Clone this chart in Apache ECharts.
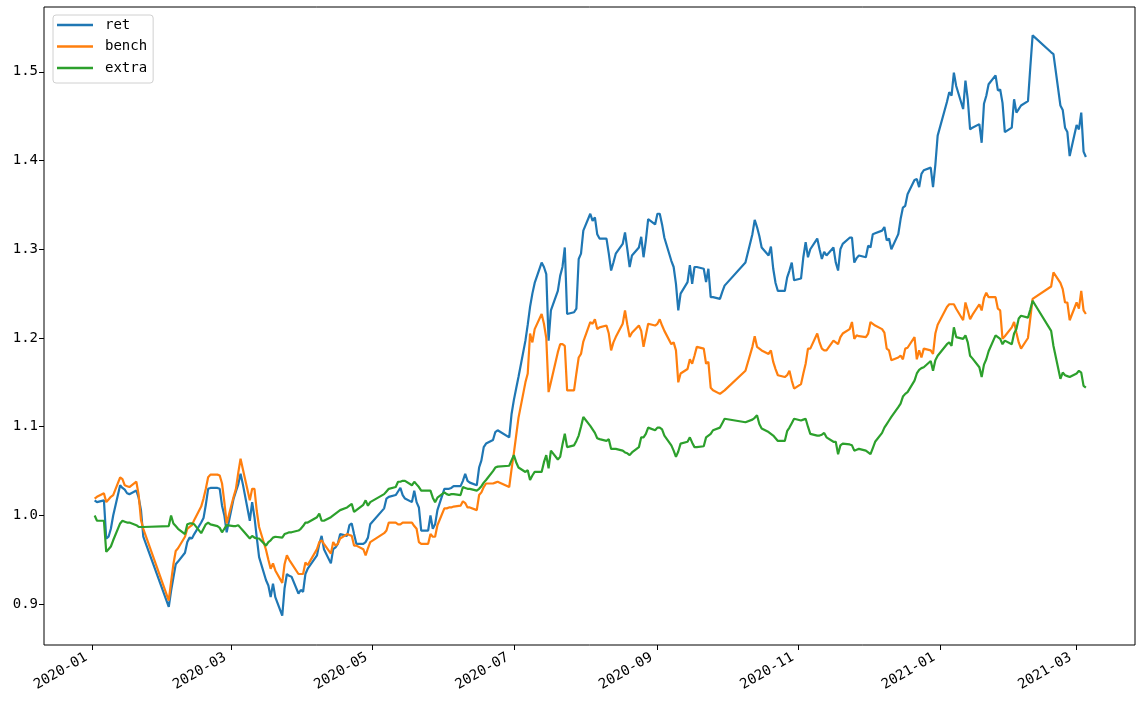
<!DOCTYPE html>
<html>
<head>
<meta charset="utf-8">
<script src="https://cdn.jsdelivr.net/npm/echarts@6/dist/echarts.min.js"></script>
<style>
html,body{margin:0;padding:0;background:#fff;}
#chart{width:1140px;height:708px;}
</style>
</head>
<body>
<div id="chart"></div>
<script>
// ---- data ----
const dates = [
'2020-01-02','2020-01-03','2020-01-06','2020-01-07','2020-01-08','2020-01-09','2020-01-10','2020-01-13','2020-01-14','2020-01-15','2020-01-16','2020-01-17','2020-01-20','2020-01-21','2020-01-22','2020-01-23',
'2020-02-03','2020-02-04','2020-02-05','2020-02-06','2020-02-07','2020-02-10','2020-02-11','2020-02-12','2020-02-13','2020-02-14','2020-02-17','2020-02-18','2020-02-19','2020-02-20','2020-02-21','2020-02-24','2020-02-25','2020-02-26','2020-02-27','2020-02-28',
'2020-03-02','2020-03-03','2020-03-04','2020-03-05','2020-03-06','2020-03-09','2020-03-10','2020-03-11','2020-03-12','2020-03-13','2020-03-16','2020-03-17','2020-03-18','2020-03-19','2020-03-20','2020-03-23','2020-03-24','2020-03-25','2020-03-26','2020-03-27','2020-03-30','2020-03-31',
'2020-04-01','2020-04-02','2020-04-03','2020-04-07','2020-04-08','2020-04-09','2020-04-10','2020-04-13','2020-04-14','2020-04-15','2020-04-16','2020-04-17','2020-04-20','2020-04-21','2020-04-22','2020-04-23','2020-04-24','2020-04-27','2020-04-28','2020-04-29','2020-04-30',
'2020-05-06','2020-05-07','2020-05-08','2020-05-11','2020-05-12','2020-05-13','2020-05-14','2020-05-15','2020-05-18','2020-05-19','2020-05-20','2020-05-21','2020-05-22','2020-05-25','2020-05-26','2020-05-27','2020-05-28','2020-05-29',
'2020-06-01','2020-06-02','2020-06-03','2020-06-04','2020-06-05','2020-06-08','2020-06-09','2020-06-10','2020-06-11','2020-06-12','2020-06-15','2020-06-16','2020-06-17','2020-06-18','2020-06-19','2020-06-22','2020-06-23','2020-06-24','2020-06-29','2020-06-30',
'2020-07-01','2020-07-02','2020-07-03','2020-07-06','2020-07-07','2020-07-08','2020-07-09','2020-07-10','2020-07-13','2020-07-14','2020-07-15','2020-07-16','2020-07-17','2020-07-20','2020-07-21','2020-07-22','2020-07-23','2020-07-24','2020-07-27','2020-07-28','2020-07-29','2020-07-30','2020-07-31',
'2020-08-03','2020-08-04','2020-08-05','2020-08-06','2020-08-07','2020-08-10','2020-08-11','2020-08-12','2020-08-13','2020-08-14','2020-08-17','2020-08-18','2020-08-19','2020-08-20','2020-08-21','2020-08-24','2020-08-25','2020-08-26','2020-08-27','2020-08-28','2020-08-31',
'2020-09-01','2020-09-02','2020-09-03','2020-09-04','2020-09-07','2020-09-08','2020-09-09','2020-09-10','2020-09-11','2020-09-14','2020-09-15','2020-09-16','2020-09-17','2020-09-18','2020-09-21','2020-09-22','2020-09-23','2020-09-24','2020-09-25','2020-09-28','2020-09-29','2020-09-30',
'2020-10-09','2020-10-12','2020-10-13','2020-10-14','2020-10-15','2020-10-16','2020-10-19','2020-10-20','2020-10-21','2020-10-22','2020-10-23','2020-10-26','2020-10-27','2020-10-28','2020-10-29','2020-10-30',
'2020-11-02','2020-11-03','2020-11-04','2020-11-05','2020-11-06','2020-11-09','2020-11-10','2020-11-11','2020-11-12','2020-11-13','2020-11-16','2020-11-17','2020-11-18','2020-11-19','2020-11-20','2020-11-23','2020-11-24','2020-11-25','2020-11-26','2020-11-27','2020-11-30',
'2020-12-01','2020-12-02','2020-12-03','2020-12-04','2020-12-07','2020-12-08','2020-12-09','2020-12-10','2020-12-11','2020-12-14','2020-12-15','2020-12-16','2020-12-17','2020-12-18','2020-12-21','2020-12-22','2020-12-23','2020-12-24','2020-12-25','2020-12-28','2020-12-29','2020-12-30','2020-12-31',
'2021-01-04','2021-01-05','2021-01-06','2021-01-07','2021-01-08','2021-01-11','2021-01-12','2021-01-13','2021-01-14','2021-01-15','2021-01-18','2021-01-19','2021-01-20','2021-01-21','2021-01-22','2021-01-25','2021-01-26','2021-01-27','2021-01-28','2021-01-29',
'2021-02-01','2021-02-02','2021-02-03','2021-02-04','2021-02-05','2021-02-08','2021-02-09','2021-02-10','2021-02-18','2021-02-19','2021-02-22','2021-02-23','2021-02-24','2021-02-25','2021-02-26',
'2021-03-01','2021-03-02','2021-03-03','2021-03-04','2021-03-05'
];

const ret = [
1.017,1.015,1.017,0.974,0.976,0.985,1.000,1.034,1.031,1.029,1.025,1.024,1.028,1.020,1.006,0.976,
0.897,0.915,0.930,0.945,0.948,0.958,0.970,0.975,0.974,0.979,0.992,0.997,1.012,1.030,1.031,1.031,1.030,1.011,1.000,0.981,
1.019,1.027,1.035,1.047,1.035,0.994,1.015,0.998,0.975,0.953,0.927,0.921,0.908,0.923,0.908,0.887,0.918,0.934,0.932,0.931,0.912,0.916,
0.914,0.934,0.940,0.955,0.968,0.977,0.962,0.946,0.962,0.964,0.968,0.979,0.977,0.989,0.991,0.979,0.968,0.968,0.970,0.975,0.990,
1.008,1.019,1.021,1.023,1.027,1.031,1.023,1.019,1.015,1.028,1.015,1.009,0.983,0.983,1.000,0.985,0.990,1.006,
1.030,1.030,1.030,1.031,1.033,1.033,1.039,1.047,1.039,1.037,1.034,1.054,1.062,1.077,1.081,1.085,1.094,1.096,1.088,1.114,
1.130,1.143,1.156,1.197,1.215,1.235,1.250,1.262,1.285,1.280,1.272,1.197,1.231,1.253,1.270,1.280,1.302,1.227,1.229,1.233,1.289,1.295,1.321,
1.340,1.332,1.336,1.317,1.312,1.312,1.295,1.276,1.285,1.295,1.306,1.319,1.300,1.280,1.293,1.302,1.314,1.291,1.310,1.334,1.328,
1.340,1.340,1.328,1.313,1.287,1.280,1.261,1.231,1.250,1.263,1.282,1.261,1.280,1.280,1.278,1.263,1.278,1.246,1.246,1.244,1.252,1.259,
1.285,1.317,1.333,1.325,1.315,1.302,1.293,1.303,1.278,1.262,1.253,1.253,1.268,1.276,1.285,1.265,
1.267,1.291,1.308,1.291,1.300,1.312,1.300,1.289,1.297,1.293,1.302,1.285,1.276,1.300,1.306,1.313,1.313,1.285,1.290,1.293,1.291,
1.304,1.302,1.317,1.318,1.321,1.325,1.310,1.312,1.300,1.317,1.334,1.347,1.349,1.362,1.378,1.379,1.370,1.385,1.389,1.392,1.370,1.395,1.428,
1.466,1.477,1.473,1.499,1.484,1.458,1.490,1.469,1.435,1.437,1.441,1.420,1.464,1.473,1.486,1.496,1.479,1.480,1.465,1.432,
1.437,1.469,1.454,1.458,1.462,1.467,1.505,1.541,1.522,1.520,1.462,1.457,1.437,1.432,1.405,
1.440,1.435,1.454,1.410,1.404
];

const bench = [
1.019,1.021,1.025,1.015,1.018,1.021,1.023,1.043,1.041,1.034,1.033,1.032,1.038,1.023,0.995,0.985,
0.904,0.925,0.945,0.960,0.963,0.976,0.985,0.987,0.989,0.995,1.010,1.019,1.030,1.043,1.046,1.046,1.045,1.036,1.015,0.991,
1.021,1.030,1.048,1.064,1.052,1.017,1.030,1.030,1.005,0.987,0.961,0.950,0.940,0.946,0.938,0.924,0.945,0.955,0.950,0.946,0.934,0.934,
0.934,0.947,0.944,0.962,0.970,0.972,0.968,0.957,0.970,0.966,0.968,0.974,0.979,0.978,0.977,0.966,0.966,0.962,0.955,0.963,0.970,
0.980,0.983,0.992,0.992,0.990,0.990,0.992,0.992,0.992,0.988,0.985,0.970,0.968,0.968,0.979,0.976,0.976,0.989,
1.008,1.008,1.009,1.009,1.010,1.011,1.016,1.014,1.009,1.009,1.006,1.023,1.026,1.032,1.036,1.036,1.037,1.038,1.032,1.052,
1.070,1.090,1.110,1.150,1.160,1.205,1.195,1.210,1.227,1.216,1.200,1.139,1.150,1.184,1.193,1.193,1.191,1.141,1.141,1.160,1.178,1.182,1.196,
1.218,1.216,1.221,1.210,1.212,1.214,1.205,1.186,1.195,1.201,1.216,1.231,1.215,1.201,1.206,1.214,1.208,1.190,1.203,1.216,1.214,
1.216,1.221,1.214,1.208,1.193,1.195,1.186,1.150,1.160,1.165,1.176,1.171,1.180,1.190,1.188,1.171,1.173,1.144,1.141,1.137,1.139,1.141,
1.163,1.190,1.202,1.190,1.188,1.186,1.182,1.186,1.173,1.165,1.158,1.156,1.158,1.163,1.152,1.143,
1.148,1.160,1.171,1.188,1.188,1.205,1.195,1.188,1.186,1.186,1.197,1.195,1.193,1.201,1.205,1.210,1.218,1.199,1.203,1.202,1.201,
1.205,1.218,1.216,1.214,1.210,1.206,1.188,1.186,1.175,1.178,1.180,1.176,1.188,1.189,1.201,1.176,1.186,1.178,1.188,1.186,1.182,1.205,1.215,
1.235,1.238,1.238,1.238,1.233,1.220,1.240,1.231,1.221,1.226,1.238,1.231,1.245,1.251,1.246,1.246,1.233,1.231,1.199,1.202,
1.212,1.218,1.206,1.195,1.188,1.200,1.222,1.244,1.258,1.274,1.262,1.255,1.240,1.240,1.220,
1.240,1.233,1.253,1.231,1.227
];

const extra = [
1.000,0.994,0.994,0.959,0.962,0.965,0.972,0.991,0.994,0.993,0.992,0.992,0.989,0.987,0.987,0.987,
0.988,1.000,0.991,0.988,0.985,0.979,0.990,0.991,0.991,0.990,0.980,0.985,0.990,0.992,0.990,0.988,0.986,0.981,0.985,0.989,
0.988,0.988,0.989,0.986,0.983,0.974,0.977,0.975,0.974,0.974,0.966,0.970,0.972,0.975,0.976,0.975,0.979,0.980,0.981,0.981,0.983,0.985,
0.988,0.992,0.992,0.998,1.002,0.994,0.994,0.998,1.000,1.002,1.004,1.006,1.009,1.011,1.013,1.004,1.006,1.012,1.017,1.011,1.015,
1.024,1.027,1.030,1.032,1.038,1.038,1.039,1.039,1.034,1.038,1.035,1.032,1.028,1.028,1.028,1.020,1.015,1.020,
1.026,1.024,1.023,1.024,1.024,1.023,1.032,1.031,1.030,1.030,1.028,1.030,1.033,1.037,1.040,1.050,1.054,1.055,1.056,1.062,
1.068,1.060,1.054,1.049,1.051,1.040,1.045,1.049,1.049,1.060,1.068,1.053,1.073,1.063,1.066,1.080,1.092,1.077,1.079,1.084,1.090,1.100,1.111,
1.101,1.097,1.093,1.087,1.086,1.084,1.086,1.075,1.075,1.075,1.073,1.071,1.070,1.068,1.071,1.077,1.088,1.088,1.092,1.099,1.096,
1.099,1.099,1.097,1.090,1.079,1.073,1.066,1.072,1.081,1.083,1.088,1.082,1.077,1.077,1.078,1.088,1.090,1.092,1.096,1.099,1.104,1.109,
1.105,1.108,1.110,1.113,1.103,1.098,1.094,1.092,1.090,1.087,1.084,1.084,1.095,1.099,1.104,1.109,
1.107,1.108,1.109,1.100,1.092,1.090,1.090,1.091,1.093,1.088,1.083,1.083,1.069,1.079,1.081,1.080,1.079,1.073,1.074,1.075,1.073,
1.071,1.069,1.076,1.083,1.093,1.099,1.103,1.107,1.111,1.122,1.126,1.134,1.137,1.139,1.152,1.160,1.164,1.166,1.167,1.174,1.163,1.175,1.180,
1.193,1.195,1.191,1.212,1.201,1.199,1.203,1.195,1.180,1.177,1.167,1.156,1.170,1.176,1.185,1.203,1.201,1.199,1.193,1.197,
1.193,1.205,1.210,1.222,1.225,1.223,1.232,1.242,1.208,1.191,1.154,1.161,1.158,1.157,1.156,
1.160,1.163,1.161,1.146,1.144
];

const seriesNames = ['ret', 'bench', 'extra'];
const xTickLabels = ['2020-01','2020-03','2020-05','2020-07','2020-09','2020-11','2021-01','2021-03'];
const yTickLabels = [0.9, 1.0, 1.1, 1.2, 1.3, 1.4, 1.5];

// ---- chart ----
const FONT = 'DejaVu Sans Mono';
function dayTs(s) { const p = s.split('-'); return new Date(+p[0], +p[1] - 1, p.length > 2 ? +p[2] : 1).getTime(); }
const xTickValues = xTickLabels.map(dayTs);
const xMin = new Date(2019, 11, 11, 3).getTime();
const xMax = new Date(2021, 2, 26, 5).getTime();

const chart = echarts.init(document.getElementById('chart'), null, {renderer: 'canvas'});
const allSeries = [ret, bench, extra];
chart.setOption({
  animation: false,
  backgroundColor: '#ffffff',
  color: ['#1f77b4', '#ff7f0e', '#2ca02c'],
  grid: {left: 44, right: 5, top: 7, bottom: 63, show: true, borderColor: '#000000', borderWidth: 1, backgroundColor: 'transparent'},
  legend: {
    orient: 'vertical', left: 53, top: 15,
    padding: [3, 6, 8, 4],
    itemWidth: 36, itemHeight: 2.5, itemGap: 7.5,
    icon: 'rect',
    borderColor: '#d0d0d0', borderWidth: 1, borderRadius: 3, backgroundColor: '#ffffff',
    textStyle: {fontFamily: FONT, fontSize: 14, color: '#000', lineHeight: 14, padding: [0, 0, 0, 7]},
    data: seriesNames
  },
  xAxis: {
    type: 'value', min: xMin, max: xMax,
    axisLine: {show: false},
    splitLine: {show: false},
    axisTick: {show: true, length: 5, lineStyle: {color: '#000'}, customValues: xTickValues},
    axisLabel: {
      customValues: xTickValues, rotate: 30, margin: 8, padding: [0, 7, 0, 0],
      fontFamily: FONT, fontSize: 14, color: '#000',
      formatter: function (v) { const d = new Date(v); return d.getFullYear() + '-' + String(d.getMonth() + 1).padStart(2, '0'); }
    }
  },
  yAxis: {
    type: 'value', min: 0.854, max: 1.573,
    axisLine: {show: false},
    splitLine: {show: false},
    axisTick: {show: true, length: 5, lineStyle: {color: '#000'}, customValues: yTickLabels},
    axisLabel: {customValues: yTickLabels, margin: 6, fontFamily: FONT, fontSize: 14, color: '#000',
      formatter: function (v) { return v.toFixed(1); }}
  },
  series: seriesNames.map(function (name, k) {
    return {
      name: name, type: 'line', showSymbol: false, symbol: 'none',
      lineStyle: {width: 2.2}, emphasis: {disabled: true},
      data: dates.map(function (d, i) { return [dayTs(d), allSeries[k][i]]; })
    };
  })
});
</script>
</body>
</html>
